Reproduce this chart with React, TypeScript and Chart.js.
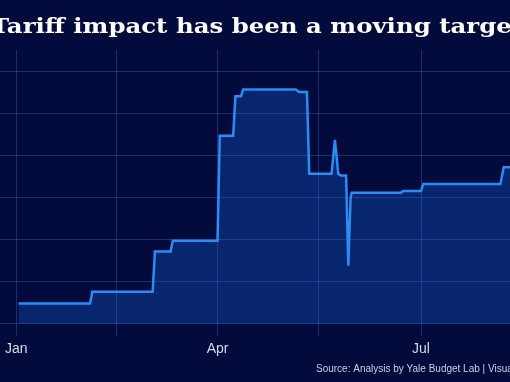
import React, { useEffect, useRef } from "react";
import { Chart, registerables } from "chart.js";

Chart.register(...registerables);

const TITLE = "Tariff impact has been a moving target";
const SOURCE = "Source: Analysis by Yale Budget Lab | Visualization";

// Day of year 2025 (Jan 1 = 0) and average effective tariff rate (%)
const dayOfYear = [1, 33, 34, 61, 62, 69, 70, 90, 91, 97, 98, 100.5, 101.5, 125, 126.5, 130, 131, 141, 142.5, 144, 145, 147.5, 148.5, 149.5, 150, 172, 173, 181, 182, 216.5, 218, 226];
const rateValues = [2.4, 2.4, 3.8, 3.8, 8.6, 8.6, 9.9, 9.9, 22.4, 22.4, 27.1, 27.1, 27.9, 27.9, 27.6, 27.6, 17.85, 17.85, 21.9, 17.85, 17.65, 17.65, 6.9, 15.0, 15.6, 15.6, 15.8, 15.8, 16.65, 16.65, 18.65, 18.65];

const xTickDays = [0, 45, 90, 135, 181];
const xTickLabels = ["Jan", "", "Apr", "", "Jul"];
const yTickValues = [0, 5, 10, 15, 20, 25, 30];

const BG = "#020b3b";
const GRID = "rgba(90,110,200,0.35)";

export default function App() {
  const ref = useRef<HTMLCanvasElement | null>(null);

  useEffect(() => {
    document.body.style.margin = "0";
    document.body.style.background = BG;
    const canvas = ref.current;
    if (!canvas) return;

    const textPlugin = {
      id: "textNotes",
      afterDraw(chart: any) {
        const ctx = chart.ctx;
        // Title (wide serif, overflowing the frame like the original crop)
        ctx.save();
        ctx.font = "bold 21px 'DejaVu Serif', Georgia, serif";
        ctx.fillStyle = "#ffffff";
        ctx.textAlign = "center";
        ctx.textBaseline = "alphabetic";
        const w = ctx.measureText(TITLE).width;
        const sx = 532 / w;
        ctx.translate(chart.width / 2 + 2, 33);
        ctx.scale(sx, 1);
        ctx.fillText(TITLE, 0, 0);
        ctx.restore();
        // Source note
        ctx.save();
        ctx.font = "10px 'Liberation Sans', Arial, sans-serif";
        ctx.fillStyle = "#c9cee2";
        ctx.textAlign = "left";
        ctx.textBaseline = "middle";
        ctx.fillText(SOURCE, 316, 369);
        ctx.restore();
      },
    };

    const chart = new Chart(canvas, {
      type: "line",
      data: {
        datasets: [
          {
            data: dayOfYear.map((d, i) => ({ x: d, y: rateValues[i] })),
            borderColor: "#2a8cf7",
            borderWidth: 2.5,
            pointRadius: 0,
            fill: "origin",
            backgroundColor: "rgba(25,110,240,0.28)",
            tension: 0,
          },
        ],
      },
      options: {
        responsive: false,
        animation: false,
        layout: { padding: { left: 0, right: 0, top: 50, bottom: 19 } },
        plugins: {
          legend: { display: false },
          tooltip: { enabled: false },
          title: { display: false },
        },
        scales: {
          x: {
            type: "linear",
            min: -7.15,
            max: 220.8,
            afterBuildTicks: (s: any) => {
              s.ticks = xTickDays.map((v) => ({ value: v }));
            },
            ticks: {
              callback: (v: any) => {
                const i = xTickDays.indexOf(Number(v));
                return i >= 0 ? xTickLabels[i] : "";
              },
              color: "#d6d9e6",
              font: { family: "'Liberation Sans', Arial, sans-serif", size: 14 },
              padding: 5,
              maxRotation: 0,
              autoSkip: false,
            },
            grid: { color: GRID, drawTicks: false, lineWidth: 1 },
            border: { display: false },
          },
          y: {
            type: "linear",
            min: -1.48,
            max: 32.6,
            afterBuildTicks: (s: any) => {
              s.ticks = yTickValues.map((v) => ({ value: v }));
            },
            ticks: { display: false },
            grid: { color: GRID, drawTicks: false, lineWidth: 1 },
            border: { display: false },
          },
        },
      },
      plugins: [textPlugin],
    });

    return () => chart.destroy();
  }, []);

  return (
    <div style={{ width: 510, height: 382, background: BG, overflow: "hidden" }}>
      <canvas ref={ref} width={510} height={382} style={{ display: "block" }} />
    </div>
  );
}
